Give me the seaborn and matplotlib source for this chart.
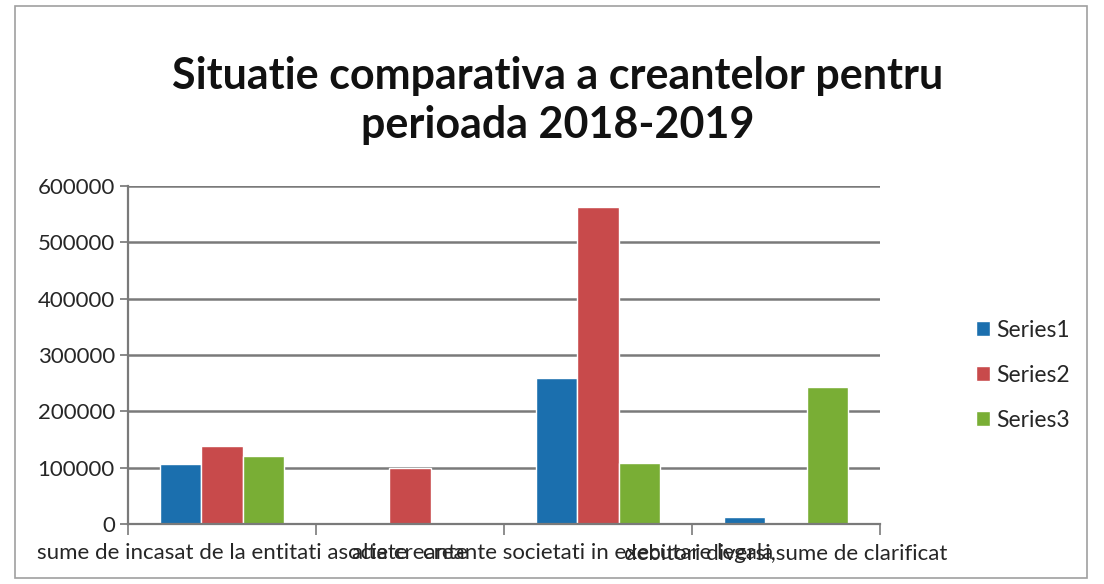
import matplotlib
matplotlib.use("Agg")
import matplotlib.pyplot as plt
import seaborn as sns
import pandas as pd
import numpy as np
from matplotlib.patches import Rectangle

# values
categories = [
    "sume de incasat de la entitati asociate",
    "alte creante",
    "creante societati in executare legala",
    "debitori diversi,sume de clarificat",
]
series_names = ["Series1", "Series2", "Series3"]
series1 = [107000, 0, 260000, 12000]
series2 = [138000, 100000, 562000, 0]
series3 = [120000, 0, 108000, 243000]
colors = ["#1b6fae", "#c84a4b", "#79ae35"]

rows = []
for name, vals in zip(series_names, [series1, series2, series3]):
    for cat, v in zip(categories, vals):
        rows.append({"cat": cat, "series": name, "value": v})
df = pd.DataFrame(rows)

sns.set_theme(style="white")
plt.rcParams["font.family"] = ["Lato", "DejaVu Sans"]

fig = plt.figure(figsize=(11.04, 5.84), dpi=100)
ax = fig.add_axes([128 / 1104, 1 - 524 / 584, (880 - 128) / 1104, (524 - 186) / 584])

sns.barplot(data=df, x="cat", y="value", hue="series", palette=colors,
            width=0.66, saturation=1, ax=ax, legend=True)

ax.set_ylim(0, 600000)
ax.set_xlim(-0.5, len(categories) - 0.5)
ax.set_yticks(np.arange(0, 600001, 100000))
ax.set_yticklabels([str(v) for v in range(0, 600001, 100000)], fontsize=16)
ax.yaxis.grid(True, color="#7a7a7a", linewidth=1.8)
ax.set_axisbelow(True)

# tick marks between categories, labels at the centres
ax.set_xticks(np.arange(-0.5, len(categories), 1.0))
ax.set_xticklabels([])
ax.tick_params(axis="x", which="major", direction="out", length=8, width=1.2,
               color="#7a7a7a", bottom=True)
ax.set_xticks(np.arange(len(categories)), minor=True)
ax.set_xticklabels(categories, minor=True, fontsize=16)
ax.tick_params(axis="x", which="minor", length=0, pad=14)
ax.tick_params(axis="y", direction="out", length=6, color="#7a7a7a", left=True)

for s in ["top", "right"]:
    ax.spines[s].set_visible(False)
for s in ["left", "bottom"]:
    ax.spines[s].set_color("#7a7a7a")
    ax.spines[s].set_linewidth(1.6)

ax.set_xlabel("")
ax.set_ylabel("")

leg = ax.legend(loc="center left", bbox_to_anchor=(1.1, 0.44), frameon=False,
                fontsize=16.5, handlelength=0.6, handleheight=0.6,
                labelspacing=1.05, handletextpad=0.3)

fig.text(0.505, 0.828, "Situatie comparativa a creantelor pentru\nperioada 2018-2019",
         ha="center", va="center", fontsize=31, fontweight="bold",
         linespacing=1.28, color="#111111")

# outer chart frame
fig.patches.append(Rectangle((15 / 1104, 6 / 584), 1072 / 1104, 572 / 584,
                             transform=fig.transFigure, fill=False,
                             edgecolor="#a0a0a0", linewidth=1.2))

fig.savefig("out.png", dpi=100, facecolor="white")
